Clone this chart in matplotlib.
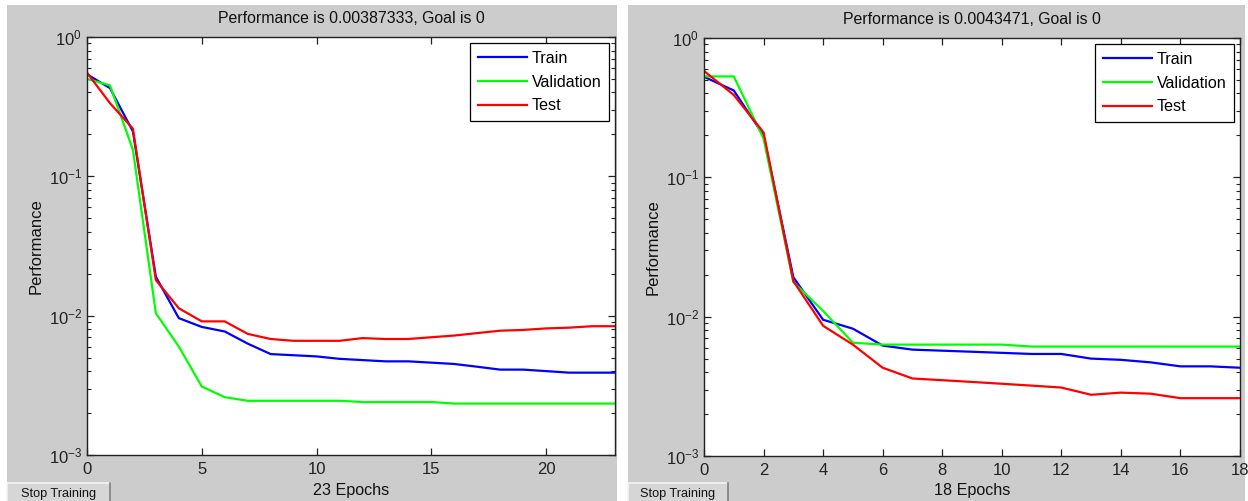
import matplotlib
matplotlib.use("Agg")
import matplotlib.pyplot as plt
from matplotlib.patches import Rectangle
from matplotlib.lines import Line2D
from matplotlib.ticker import LogLocator, MultipleLocator, NullFormatter

plt.rcParams['font.family'] = ['Liberation Sans', 'DejaVu Sans']
plt.rcParams['mathtext.default'] = 'regular'

# Run 1: 23 epochs
epochs_a = list(range(24))
train_a = [0.54, 0.43, 0.21, 0.019, 0.0096, 0.0083, 0.0077, 0.0063, 0.0053, 0.0052,
           0.0051, 0.0049, 0.0048, 0.0047, 0.0047, 0.0046, 0.0045, 0.0043, 0.0041,
           0.0041, 0.0040, 0.0039, 0.0039, 0.0039]
val_a = [0.50, 0.45, 0.155, 0.0104, 0.0060, 0.0031, 0.0026, 0.00245, 0.00245, 0.00245,
         0.00245, 0.00245, 0.0024, 0.0024, 0.0024, 0.0024, 0.00234, 0.00234, 0.00234,
         0.00234, 0.00234, 0.00234, 0.00234, 0.00234]
test_a = [0.555, 0.335, 0.22, 0.018, 0.0113, 0.0091, 0.0091, 0.0074, 0.0068, 0.0066,
          0.0066, 0.0066, 0.0069, 0.0068, 0.0068, 0.0070, 0.0072, 0.0075, 0.0078,
          0.0079, 0.0081, 0.0082, 0.0084, 0.0084]
title_a = "Performance is 0.00387333, Goal is 0"

# Run 2: 18 epochs
epochs_b = list(range(19))
train_b = [0.527, 0.42, 0.20, 0.0192, 0.0095, 0.0082, 0.0062, 0.0058, 0.0057, 0.0056,
           0.0055, 0.0054, 0.0054, 0.0050, 0.0049, 0.0047, 0.0044, 0.0044, 0.0043]
val_b = [0.53, 0.53, 0.19, 0.0177, 0.011, 0.0065, 0.0063, 0.0063, 0.0063, 0.0063,
         0.0063, 0.0061, 0.0061, 0.0061, 0.0061, 0.0061, 0.0061, 0.0061, 0.0061]
test_b = [0.58, 0.39, 0.21, 0.018, 0.0086, 0.0063, 0.0043, 0.0036, 0.0035, 0.0034,
          0.0033, 0.0032, 0.0031, 0.00275, 0.00285, 0.0028, 0.0026, 0.0026, 0.0026]
title_b = "Performance is 0.0043471, Goal is 0"

W, H = 1248, 501
panel_gray = '#cccccc'

fig = plt.figure(figsize=(W / 100, H / 100), dpi=100)
fig.patch.set_facecolor('white')


def px_rect(x0, y0, x1, y1):
    # pixel box (top-left origin) -> figure fraction [l, b, w, h]
    return [x0 / W, (H - y1) / H, (x1 - x0) / W, (y1 - y0) / H]


def draw_panel(px, ax_px, epochs, train, val, test, title, step):
    l, b, w, h = px_rect(*px)
    fig.patches.append(Rectangle((l, b), w, h, transform=fig.transFigure,
                                 facecolor=panel_gray, edgecolor='none', zorder=-1))

    ax = fig.add_axes(px_rect(*ax_px))
    ax.plot(epochs, train, color='#0000ff', lw=1.6, label='Train')
    ax.plot(epochs, val, color='#00ff00', lw=1.6, label='Validation')
    ax.plot(epochs, test, color='#ff0000', lw=1.6, label='Test')

    ax.set_yscale('log')
    ax.set_ylim(1e-3, 1)
    ax.set_xlim(0, epochs[-1])
    ax.xaxis.set_major_locator(MultipleLocator(step))
    ax.yaxis.set_major_locator(LogLocator(base=10, numticks=5))
    ax.yaxis.set_minor_locator(LogLocator(base=10, subs=range(2, 10), numticks=20))
    ax.yaxis.set_minor_formatter(NullFormatter())

    ax.tick_params(which='both', direction='in', top=True, right=True,
                   labelsize=12, colors='#222222', labelcolor='#222222')
    ax.tick_params(axis='x', which='major', pad=5)
    ax.tick_params(which='major', length=5, width=0.9)
    ax.tick_params(which='minor', length=3, width=0.8)
    for sp in ax.spines.values():
        sp.set_linewidth(1.0)
        sp.set_color('#222222')

    ax.set_title(title, fontsize=11.4, pad=10, color='#111111')
    ax.set_xlabel(f"{epochs[-1]} Epochs", fontsize=11.6, labelpad=4, color='#111111')
    ax.set_ylabel("Performance", fontsize=12, labelpad=3.5, color='#111111')

    leg = ax.legend(loc='upper right', fontsize=11.6, handlelength=3.0,
                    fancybox=False, framealpha=1, edgecolor='black',
                    borderaxespad=0.35, labelspacing=0.55, handletextpad=0.3,
                    borderpad=0.5)
    leg.get_frame().set_linewidth(0.9)
    return ax


def draw_button(x0, y0, x1, y1):
    l, b, w, h = px_rect(x0, y0, x1, y1)
    fig.patches.append(Rectangle((l, b), w, h, transform=fig.transFigure,
                                 facecolor='#d6d6d6', edgecolor='none', zorder=1))
    # raised look: light top/left, dark right edge
    fig.lines.append(Line2D([l, l, l + w], [b, b + h, b + h], transform=fig.transFigure,
                            color='#f4f4f4', lw=1.2, zorder=2))
    fig.lines.append(Line2D([l + w, l + w], [b, b + h], transform=fig.transFigure,
                            color='#808080', lw=1.2, zorder=2))
    fig.text(l + w / 2, b + h / 2 - 0.004, "Stop Training", ha='center', va='center',
             fontsize=9.2, color='#111111')


draw_panel((7, 5, 617, 501), (87, 37, 615, 455),
           epochs_a, train_a, val_a, test_a, title_a, 5)
draw_panel((628, 5, 1245, 501), (704, 38, 1240, 456),
           epochs_b, train_b, val_b, test_b, title_b, 2)
draw_button(7, 483, 110, 501)
draw_button(628, 483, 728, 501)

fig.savefig("out.png", dpi=100)
